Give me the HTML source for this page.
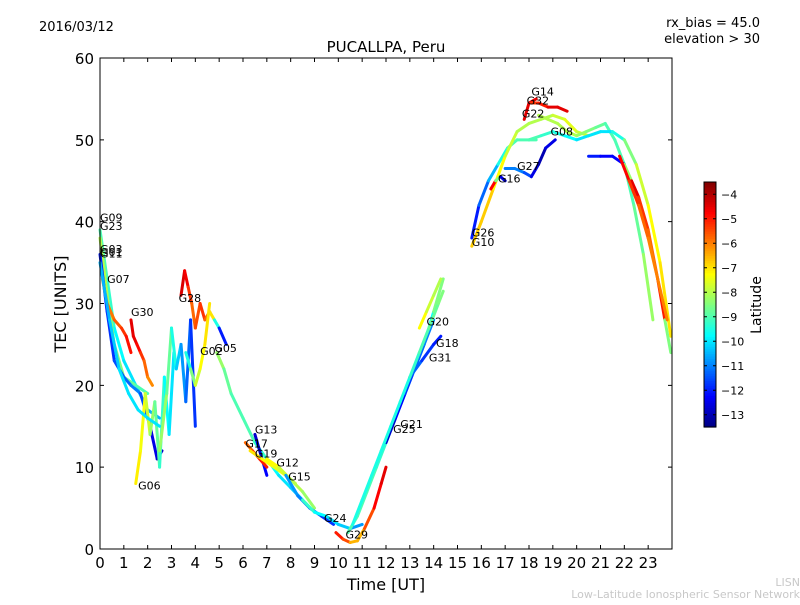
<!DOCTYPE html>
<html><head><meta charset="utf-8">
<style>
body{margin:0;background:#fff;font-family:"Liberation Sans","DejaVu Sans",sans-serif}
svg text{font-family:"DejaVu Sans","Liberation Sans",sans-serif}
</style></head>
<body>
<svg id="chart" width="800" height="600" viewBox="0 0 800 600" xmlns="http://www.w3.org/2000/svg">
<rect width="800" height="600" fill="#fff"/>
<text x="39" y="31" font-size="13">2016/03/12</text>
<text x="760" y="27" font-size="13" text-anchor="end">rx_bias = 45.0</text>
<text x="760" y="43" font-size="13" text-anchor="end">elevation &gt; 30</text>
<text x="386" y="52" font-size="15" text-anchor="middle">PUCALLPA, Peru</text>
<g id="marks"></g>
<g id="labels"></g>
<rect x="100" y="58" width="572" height="491" fill="none" stroke="#000" stroke-width="1"/>
<g id="xaxis"></g>
<g id="yaxis"></g>
<text x="386" y="590" font-size="16" text-anchor="middle">Time [UT]</text>
<text x="66" y="304" font-size="16" text-anchor="middle" transform="rotate(-90 66 304)">TEC [UNITS]</text>
<g id="cbar"></g>
<text x="761" y="305" font-size="14" text-anchor="middle" transform="rotate(-90 761 305)">Latitude</text>
<text x="800" y="586" font-size="11" fill="#c8c8c8" text-anchor="end">LISN</text>
<text x="800" y="598" font-size="11" fill="#c8c8c8" text-anchor="end">Low-Latitude Ionospheric Sensor Network</text>
</svg>
<script>
const satNames=["G09","G23","G03","G07","G30","G06","G06b","G28","G02","G05","G13","G17","G19","G12","G15","G24","G29","G21","G25","G20","G18","G26","G10","G16","G27","G22","G32","G14","G08","G31","G20b","G01","G32b"];
const satTimes=[
[0,0.3,0.6,1,1.5,2,2.5],
[0,0.3,0.6,1,1.5,2],
[0,0.3,0.6,1,1.3,1.7,2.1,2.4,2.6],
[0.1,0.3,0.6,0.9,1.1,1.3],
[1.3,1.4,1.55,1.7,1.85,2.0,2.2],
[1.5,1.7,1.9,2.1,2.3,2.5,2.7,2.9,3.1],
[2.5,2.8,3.0,3.2,3.4,3.6,3.8,4.0],
[3.4,3.55,3.7,3.85,4.0,4.2,4.4,4.6,4.8,5.0,5.3],
[3.6,3.8,4.0,4.2,4.4,4.6],
[4.9,5.2,5.5,6.0,6.5,7.0,7.5,8.0,8.5],
[6.5,6.8,7.0],
[6.1,6.4,6.7,7.0],
[6.3,6.8,7.3,7.8,8.2],
[7.0,7.5,8.0,8.5,9.0],
[7.8,8.3,8.8,9.3,9.8],
[8.5,9.0,9.5,10.0,10.5,11.0],
[9.9,10.2,10.5,10.8,11.1,11.5,11.8,12.0],
[10.4,10.8,11.2,11.6,12.0,12.4,12.8,13.2,13.6,14.0,14.4],
[12.0,12.4,12.8,13.2,13.6,14.0],
[13.4,13.7,14.0,14.3],
[13.0,13.5,14.0,14.3],
[15.6,15.9,16.3,16.7,17.1,17.5,18.0,18.3],
[15.6,16.0,16.5,17.0,17.5,18.0,18.5,19.0,19.5,20.0,20.5,21.0],
[16.4,16.6,16.8,17.0],
[17.0,17.4,17.8,18.1,18.4,18.7,19.1],
[17.8,18.0,18.3],
[18.1,18.4,18.8,19.2,19.6],
[18.4,18.8,19.2,19.6,20.0,20.4,20.8,21.2,21.6,22.0,22.4,22.8,23.2,23.6,23.95],
[18.0,18.5,19.0,19.5,20.0,20.5,21.0,21.5,22.0,22.5,23.0,23.5,23.95],
[20.5,21.0,21.5,22.0,22.3,22.6,23.0,23.4,23.7,23.95],
[10.6,11.0,11.4,11.8,12.2,12.6,13.0,13.4,13.8,14.2,14.4],
[0,0.4,0.8,1.2,1.6,2.0,2.5],
[21.8,22.2,22.6,23.0,23.4,23.8]
];
const satTec=[
[39,33,27,23,20,17,16],
[38,31,25,21,20,19],
[36,29,23,21,20,19,15,11,12],
[33,30,28,27,26,24],
[28,26,25,24,23,21,20],
[8,12,19,14,18,10,21,14,24],
[12,19,27,22,25,18,28,15],
[31,34,32,30,27,30,28,29,28,27,25],
[24,22,20,22,25,30],
[24,22,19,16,13,11,9,7.5,6],
[14,11,9],
[13,12,11,10],
[12,11,10,9,8],
[11,10,8.5,7,5],
[9,6.5,5,4,3],
[6,4.5,4,3,2.5,3],
[2,1.2,0.8,1,2.5,5,8,10],
[2,4,7,10,13,16,19,22,25,29,33],
[13,16,19,22,25,28],
[27,29,31,33],
[21,23,25,26],
[38,42,45,47,49,50,50,50],
[37,40,44,48,51,52,52.5,53,52.5,51,50.5,51],
[44,45,45.5,45],
[46.5,46.5,46,45.5,47,49,50],
[52.5,54.5,55],
[54.5,54.5,54,54,53.5],
[53,52.5,52,51,50.5,51,51.5,52,50,47,42,36,28],
[50,50.5,51,50.5,50,50.5,51,51,50,47,42,35,26],
[48,48,48,47,45,43,39,33,28,24],
[3,6,9,12,15,18,21,24,27,30,31.5],
[35,28,22,19,17,16,15],
[48,45,42,38,33,28]
];
const satLat=[
[-9,-9,-9.5,-10,-10,-10.5,-10.5],
[-8,-8,-8.5,-8.5,-9,-9],
[-12,-12,-11.5,-11.5,-11,-11,-12,-13,-12.5],
[-6.5,-6,-5.8,-5.5,-5,-4.8],
[-4.5,-4.5,-4.6,-5,-5.5,-6,-6.2],
[-7,-7.2,-7.5,-8,-8.5,-9,-9.5,-10,-10],
[-8,-8.5,-9,-10,-10.5,-11,-11.5,-12],
[-4.5,-4.3,-5,-5.5,-6,-5,-5.5,-6,-8,-11,-13],
[-10,-9,-8,-7.5,-7,-7],
[-8,-8.5,-9,-9,-9,-9.5,-10,-10,-10.5],
[-13,-12.5,-12],
[-6,-5.5,-5,-5],
[-7,-7,-7.5,-7.5,-8],
[-7,-7.5,-8,-8,-8.5],
[-10.5,-11,-11,-11.5,-12],
[-9,-9.5,-10,-10,-10.5,-11],
[-5,-5,-6,-7,-6,-5,-4.5,-4.5],
[-9,-9,-9,-9,-9.5,-10,-10,-10.5,-10.5,-9,-8],
[-13,-12.5,-12,-11.5,-11,-11],
[-7,-7.5,-8,-8],
[-11,-11.5,-12,-12],
[-12.5,-11.5,-11,-10,-9,-9,-9,-9],
[-7,-6.5,-7,-7.5,-8,-8,-8,-8,-7.5,-7.5,-8,-8],
[-4.5,-5,-12,-13],
[-11,-11,-11,-12,-13,-13,-12],
[-4.5,-4.5,-4.5],
[-5,-5.5,-4.5,-4.5,-4.5],
[-8,-8,-8,-8,-8,-8.5,-8.5,-9,-9,-9,-9,-8.5,-8],
[-9,-9,-9.5,-9.5,-10,-10,-10,-10,-9,-8,-7.5,-7,-7],
[-12,-12,-12.5,-12,-4.5,-4.5,-6,-5.5,-4.5,-12.5],
[-9.5,-9.5,-9.5,-9.5,-9.5,-9.5,-9.5,-9,-9,-8.5,-8.5],
[-10.5,-10.5,-10,-10,-10,-10,-10],
[-4.5,-5,-5.5,-6,-6,-6]
];
const labelNames=["G09","G23","G03","G01","G11","G07","G30","G06","G28","G02","G05","G13","G17","G19","G12","G15","G24","G29","G25","G21","G31","G18","G20","G26","G10","G16","G27","G22","G32","G14","G08"];
const labelT=[0.0,0.0,0.0,0.0,0.0,0.3,1.3,1.6,3.3,4.2,4.8,6.5,6.1,6.5,7.4,7.9,9.4,10.3,12.3,12.6,13.8,14.1,13.7,15.6,15.6,16.7,17.5,17.7,17.9,18.1,18.9];
const labelV=[40,39,36.2,35.8,35.6,32.5,28.5,7.3,30.2,23.7,24.1,14.1,12.4,11.2,10.1,8.4,3.3,1.3,14.2,14.8,22.9,24.7,27.3,38.2,37.0,44.8,46.3,52.7,54.3,55.4,50.5];
const NS="http://www.w3.org/2000/svg";
const X0=100,X1=672,Y0=549,Y1=58;
function xs(t){return X0+(t/24)*(X1-X0);}
function ys(v){return Y0-(v/60)*(Y0-Y1);}
const LMIN=-13.5,LMAX=-3.5;
function jet(lat){let f=(lat-LMIN)/(LMAX-LMIN);f=Math.max(0,Math.min(1,f));
 const c=x=>Math.round(255*Math.max(0,Math.min(1,1.5-Math.abs(4*f-x))));
 return `rgb(${c(3)},${c(2)},${c(1)})`;}
const marks=document.getElementById('marks');
satTimes.forEach((ts,i)=>{
 for(let j=0;j<ts.length-1;j++){
  const l=document.createElementNS(NS,'line');
  l.setAttribute('x1',xs(ts[j]));l.setAttribute('y1',ys(satTec[i][j]));
  l.setAttribute('x2',xs(ts[j+1]));l.setAttribute('y2',ys(satTec[i][j+1]));
  l.setAttribute('stroke',jet((satLat[i][j]+satLat[i][j+1])/2));
  l.setAttribute('stroke-width','3');l.setAttribute('stroke-linecap','round');
  
  
  marks.appendChild(l);
 }
});
const lab=document.getElementById('labels');
labelNames.forEach((n,i)=>{
 const t=document.createElementNS(NS,'text');
 t.setAttribute('x',xs(labelT[i]));t.setAttribute('y',ys(labelV[i]));
 t.setAttribute('font-size','11');t.textContent=n;
 
 
 lab.appendChild(t);
});
const xa=document.getElementById('xaxis');
for(let h=0;h<=23;h++){
 const x=xs(h);
 const tk=document.createElementNS(NS,'path');
 tk.setAttribute('d',`M${x},${Y0}v-4M${x},${Y1}v4`);tk.setAttribute('stroke','#000');
 
 
 xa.appendChild(tk);
 const t=document.createElementNS(NS,'text');
 t.setAttribute('x',x);t.setAttribute('y',568);t.setAttribute('font-size','15');t.setAttribute('text-anchor','middle');
 t.textContent=h;
 
 
 xa.appendChild(t);
}
const ya=document.getElementById('yaxis');
for(let v=0;v<=60;v+=10){
 const y=ys(v);
 const tk=document.createElementNS(NS,'path');
 tk.setAttribute('d',`M${X0},${y}h4M${X1},${y}h-4`);tk.setAttribute('stroke','#000');
 
 
 ya.appendChild(tk);
 const t=document.createElementNS(NS,'text');
 t.setAttribute('x',94);t.setAttribute('y',y+6);t.setAttribute('font-size','15');t.setAttribute('text-anchor','end');
 t.textContent=v;
 
 
 ya.appendChild(t);
}
const cb=document.getElementById('cbar');
const CB_T=182,CB_B=427,CB_X=704,CB_W=12;
for(let k=0;k<100;k++){
 const r=document.createElementNS(NS,'rect');
 const y=CB_B-(k+1)*(CB_B-CB_T)/100;
 r.setAttribute('x',CB_X);r.setAttribute('y',y);r.setAttribute('width',CB_W);r.setAttribute('height',(CB_B-CB_T)/100+0.6);
 r.setAttribute('fill',jet(LMIN+(k+0.5)/100*(LMAX-LMIN)));
 
 
 cb.appendChild(r);
}
const fr=document.createElementNS(NS,'rect');
fr.setAttribute('x',CB_X);fr.setAttribute('y',CB_T);fr.setAttribute('width',CB_W);fr.setAttribute('height',CB_B-CB_T);
fr.setAttribute('fill','none');fr.setAttribute('stroke','#000');


cb.appendChild(fr);
for(let v=-13;v<=-4;v++){
 const y=CB_B-(v-LMIN)/(LMAX-LMIN)*(CB_B-CB_T);
 const tk=document.createElementNS(NS,'path');
 tk.setAttribute('d',`M${CB_X},${y}h3M${CB_X+CB_W},${y}h-3`);tk.setAttribute('stroke','#000');
 
 
 cb.appendChild(tk);
 const t=document.createElementNS(NS,'text');
 t.setAttribute('x',CB_X+CB_W+5);t.setAttribute('y',y+4);t.setAttribute('font-size','11');
 t.textContent='\u2212'+(-v);
 
 
 cb.appendChild(t);
}
</script>
</body></html>
